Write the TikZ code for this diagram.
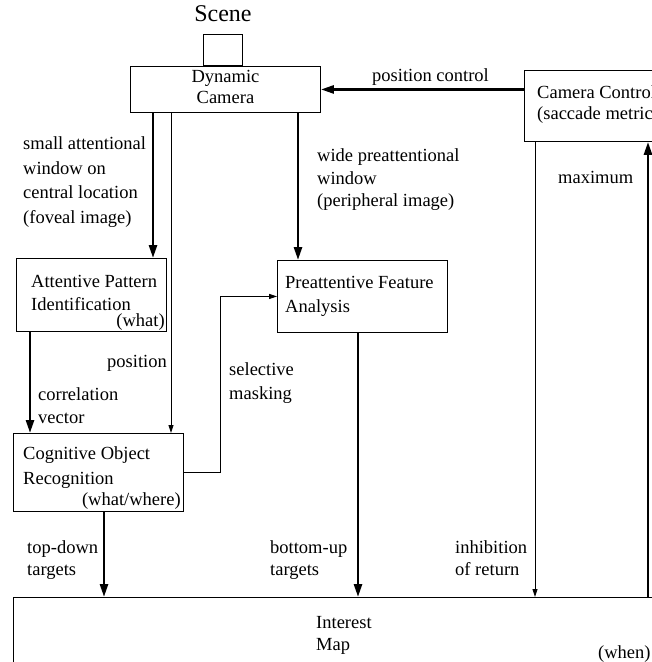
\documentclass[tikz,border=0pt]{standalone}
\usepackage{fontspec}
\setmainfont{Liberation Serif}
\usetikzlibrary{positioning,calc,arrows.meta}

\begin{document}
\begin{tikzpicture}[x=1pt,y=1pt,
  box/.style={draw,line width=0.9pt,inner sep=0pt,anchor=north west},
  lbl/.style={font=\fontsize{18.5}{23}\selectfont,align=left,inner sep=0pt,anchor=north west},
  big/.style={line width=2.6pt,-{Triangle[length=13pt,width=8pt]}},
  small/.style={line width=0.9pt,-{Triangle[length=8pt,width=5pt]}}]

  \useasboundingbox (0,0) rectangle (652,-662);
  \clip (0,0) rectangle (652,-662);

  % boxes
  \node[box,minimum width=190pt,minimum height=46pt] (cam) at (130,-66) {};
  \node[box,minimum width=39pt,minimum height=31pt,above=0pt of cam,xshift=-2.5pt] (scenebox) {};
  \node[lbl,font=\fontsize{24}{26}\selectfont,above=12pt of scenebox] (scene) {Scene};
  \node[box,minimum width=180pt,minimum height=71pt] (ctrl) at (524,-70) {};
  \node[box,minimum width=150pt,minimum height=73pt] (att) at (16,-258) {};
  \node[box,minimum width=170pt,minimum height=72pt] (pre) at (277,-260) {};
  \node[box,minimum width=170pt,minimum height=78pt] (cog) at (13,-433) {};
  \node[box,minimum width=700pt,minimum height=100pt] (imap) at (13,-597) {};

  % box texts
  \node[lbl,anchor=north,align=center,font=\fontsize{18.5}{21}\selectfont] (camtxt) at ($(cam.north)+(0,-4.5)$) {Dynamic\\Camera};
  \node[lbl,font=\fontsize{18.5}{21}\selectfont] (ctrltxt) at ($(ctrl.north west)+(13,-15.5)$) {Camera Control\\(saccade metric)};
  \node[lbl] (atttxt) at ($(att.north west)+(15,-17.5)$) {Attentive Pattern\\Identification};
  \node[lbl,anchor=south east] (attwhat) at ($(att.south east)+(-2,1.5)$) {(what)};
  \node[lbl,font=\fontsize{18.5}{24}\selectfont] (pretxt) at ($(pre.north west)+(8,-16.5)$) {Preattentive Feature\\Analysis};
  \node[lbl,font=\fontsize{18.5}{25}\selectfont] (cogtxt) at ($(cog.north west)+(10,-13.5)$) {Cognitive Object\\Recognition};
  \node[lbl,anchor=south east] (cogwhere) at ($(cog.south east)+(-3,2.5)$) {(what/where)};
  \node[lbl,font=\fontsize{18.5}{22}\selectfont] (imaptxt) at ($(imap.north west)+(303,-19.5)$) {Interest\\Map};
  \node[lbl] (imapwhen) at (598,-645.5) {(when)};

  % arrow columns
  \coordinate (xcor) at (30,0);
  \coordinate (xtd) at (104,0);
  \coordinate (xfov) at (153,0);
  \coordinate (xpos) at (171,0);
  \coordinate (xper) at (298,0);
  \coordinate (xbu) at (358,0);
  \coordinate (xinh) at (535,0);
  \coordinate (xmax) at (648,0);

  \draw[big] (ctrl.west |- cam.east) -- (cam.east);
  \draw[big] (xfov |- cam.south) -- (xfov |- att.north);
  \draw[small] (xpos |- cam.south) -- (xpos |- cog.north);
  \draw[big] (xper |- cam.south) -- (xper |- pre.north);
  \draw[big] (xcor |- att.south) -- (xcor |- cog.north);
  \draw[small] (cog.east) -- ++(37,0) |- (pre.west);
  \draw[big] (xtd |- cog.south) -- (xtd |- imap.north);
  \draw[big] (xbu |- pre.south) -- (xbu |- imap.north);
  \draw[small] (xinh |- ctrl.south) -- (xinh |- imap.north);
  \draw[big] (xmax |- imap.north) -- (xmax |- ctrl.south);

  % labels
  \node[lbl] (posctrl) at (372,-68.5) {position control};
  \node[lbl,font=\fontsize{18.5}{24.5}\selectfont] (fov) at (23,-136.5) {small attentional\\window on\\central location\\(foveal image)};
  \node[lbl,font=\fontsize{18.5}{22.5}\selectfont] (peri) at (317,-148.5) {wide preattentional\\window\\(peripheral image)};
  \node[lbl,anchor=north east] (pos) at (167,-355.5) {position};
  \node[lbl] (corr) at (38,-387.5) {correlation\\vector};
  \node[lbl,font=\fontsize{18.5}{24}\selectfont] (mask) at (229,-362.5) {selective\\masking};
  \node[lbl,font=\fontsize{18.5}{22}\selectfont] (topdown) at (27,-540.5) {top-down\\targets};
  \node[lbl,font=\fontsize{18.5}{22}\selectfont] (bottomup) at (270,-540.5) {bottom-up\\targets};
  \node[lbl,font=\fontsize{18.5}{22}\selectfont] (inhib) at (455,-540.5) {inhibition\\of return};
  \node[lbl] (maxi) at (558,-171.5) {maximum};
\end{tikzpicture}
\end{document}
